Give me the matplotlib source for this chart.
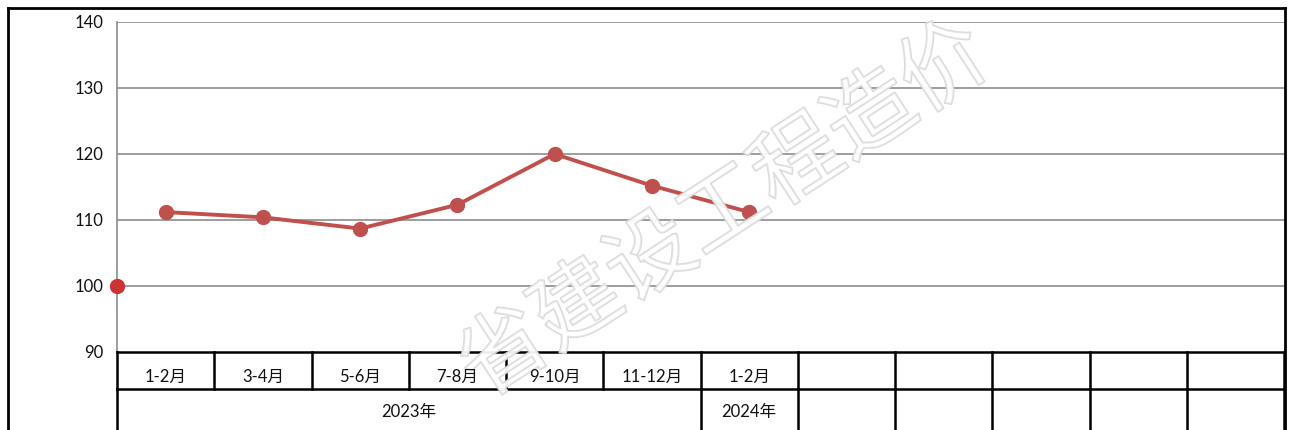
import matplotlib
matplotlib.use("Agg")
import matplotlib.pyplot as plt
import matplotlib.patheffects as pe
from matplotlib.transforms import blended_transform_factory
from matplotlib.lines import Line2D

# ---- data ----
periods = ['1-2月', '3-4月', '5-6月', '7-8月', '9-10月', '11-12月', '1-2月']
values = [111.2, 110.4, 108.7, 112.3, 120.0, 115.2, 111.2]
base_value = 100
n_slots = 12
years = ['2023年', '2024年']
year_spans = [6, 1]
y_ticks = [90, 100, 110, 120, 130, 140]
watermark = '省建设工程造价'

plt.rcParams['font.family'] = ['Lato', 'Noto Sans CJK SC', 'DejaVu Sans']

W, H = 1289, 430
fig = plt.figure(figsize=(W / 100, H / 100), dpi=100)
ax = fig.add_axes([117 / W, 1 - 352 / H, 1167 / W, 330 / H])

ax.set_xlim(0, n_slots)
ax.set_ylim(min(y_ticks), max(y_ticks))
ax.set_yticks(y_ticks)
ax.set_xticks([])
ax.tick_params(axis='y', length=0, pad=10, labelsize=12, labelcolor='#111111')
for s in ['top', 'right', 'bottom']:
    ax.spines[s].set_visible(False)
ax.spines['left'].set_color('#8c8c8c')
ax.spines['left'].set_linewidth(1.2)
for t in y_ticks[1:]:
    ax.axhline(t, color='#8c8c8c', lw=1.2, zorder=1)

xs = [i + 0.5 for i in range(len(values))]
ax.plot(xs, values, color='#C0504D', lw=2.8, marker='o', ms=10,
        markerfacecolor='#C0504D', markeredgecolor='#C0504D', zorder=3)
ax.plot([0], [base_value], 'o', ms=10, color='#CC3333', clip_on=False, zorder=4)

# ---- category table below the plot ----
tr = blended_transform_factory(ax.transData, fig.transFigure)
y_top = 1 - 352 / H
y_mid = 1 - 389 / H
y_bot = -0.02
lw_tab = 1.8
fig.add_artist(Line2D([0, n_slots], [y_top, y_top], transform=tr, color='black', lw=lw_tab))
fig.add_artist(Line2D([0, n_slots], [y_mid, y_mid], transform=tr, color='black', lw=lw_tab))
for i in range(n_slots + 1):
    fig.add_artist(Line2D([i, i], [y_top, y_mid], transform=tr, color='black', lw=lw_tab))
for i, p in enumerate(periods):
    fig.text(i + 0.5, 1 - 377 / H, p, transform=tr, ha='center', va='center',
             fontsize=12, color='#111111', zorder=12)

# year row
bounds = [0]
for sp in year_spans:
    bounds.append(bounds[-1] + sp)
for b in range(bounds[-1] + 1, n_slots + 1):
    bounds.append(b)
for b in bounds:
    fig.add_artist(Line2D([b, b], [y_mid, y_bot], transform=tr, color='black', lw=lw_tab))
start = 0
for yr, sp in zip(years, year_spans):
    fig.text(start + sp / 2, 1 - 412 / H, yr, transform=tr, ha='center', va='center',
             fontsize=12, color='#111111', zorder=12)
    start += sp

# ---- outer frame ----
fr = dict(color='black', lw=2, transform=fig.transFigure)
fig.add_artist(Line2D([8 / W, 8 / W], [1 - 8 / H, -0.01], **fr))
fig.add_artist(Line2D([8 / W, 1285 / W], [1 - 8 / H, 1 - 8 / H], **fr))
fig.add_artist(Line2D([1285 / W, 1285 / W], [1 - 8 / H, -0.01], **fr))

# ---- watermark ----
fig.text(725 / W, 1 - 212 / H, watermark, ha='center', va='center', rotation=33,
         fontsize=63, color='white', alpha=0.3,
         family=['Noto Sans CJK SC'], zorder=10,
         path_effects=[pe.withStroke(linewidth=1.4, foreground='#d6d6d6', alpha=0.9)])

fig.savefig('out.png', dpi=100)
